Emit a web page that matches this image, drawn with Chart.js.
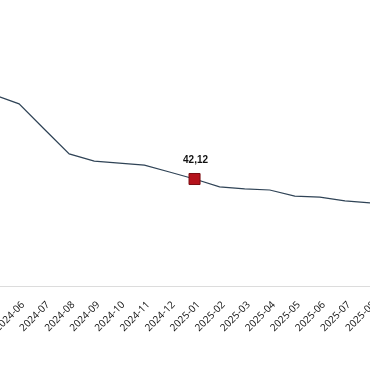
<!DOCTYPE html>
<html>
<head>
<meta charset="utf-8">
<script src="https://cdn.jsdelivr.net/npm/chart.js@4/dist/chart.umd.min.js"></script>
<style>
  html, body { margin: 0; padding: 0; background: #fff; }
  #wrap { position: relative; width: 370px; height: 380px; overflow: hidden; background: #fff; }
  #c { position: absolute; left: -6px; top: 0; }
</style>
</head>
<body>
<div id="wrap"><canvas id="c" width="376" height="380"></canvas></div>
<script>
const categories = ['2024-05','2024-06','2024-07','2024-08','2024-09','2024-10','2024-11','2024-12',
                    '2025-01','2025-02','2025-03','2025-04','2025-05','2025-06','2025-07','2025-08'];
const values = [75.3, 71.7, 61.8, 52.0, 49.2, 48.4, 47.6, 44.9,
                42.12, 39.0, 38.2, 37.8, 35.4, 35.0, 33.5, 32.7];
const highlightLabel = '2025-01';
const highlightIndex = categories.indexOf(highlightLabel);

const pointRadii = categories.map((c, i) => i === highlightIndex ? 7.8 : 0);

const valueLabelPlugin = {
  id: 'valueLabel',
  afterDatasetsDraw(chart) {
    const meta = chart.getDatasetMeta(0);
    const el = meta.data[highlightIndex];
    if (!el) return;
    const ctx = chart.ctx;
    ctx.save();
    ctx.font = 'bold 10px "Liberation Sans", Arial, sans-serif';
    ctx.fillStyle = '#111';
    ctx.textAlign = 'center';
    ctx.textBaseline = 'middle';
    ctx.fillText(values[highlightIndex].toFixed(2).replace('.', ','), el.x + 1, el.y - 19);
    ctx.restore();
  }
};

new Chart(document.getElementById('c'), {
  type: 'line',
  data: {
    labels: categories,
    datasets: [{
      data: values,
      borderColor: '#2f4356',
      borderWidth: 1.2,
      tension: 0,
      fill: false,
      pointRadius: pointRadii,
      pointHoverRadius: pointRadii,
      pointStyle: 'rect',
      pointBackgroundColor: '#b5121b',
      pointBorderColor: '#7a0d12',
      pointBorderWidth: 1
    }]
  },
  options: {
    responsive: false,
    animation: false,
    events: [],
    layout: { padding: { top: 32, left: 0, right: 0, bottom: 0 } },
    plugins: { legend: { display: false }, tooltip: { enabled: false } },
    scales: {
      x: {
        type: 'category',
        offset: false,
        grid: { display: false, drawTicks: true, tickLength: 8 },
        border: { display: true, color: '#dcdcdc', width: 1 },
        ticks: {
          minRotation: 45, maxRotation: 45, autoSkip: false,
          color: '#111', padding: 5, labelOffset: 4,
          font: { size: 10, family: '"Open Sans", "Liberation Sans", Arial, sans-serif' }
        },
        afterFit(scale) { scale.paddingLeft = 0; scale.paddingRight = 0; scale.height = 94; }
      },
      y: {
        display: false,
        min: 0, max: 100
      }
    }
  },
  plugins: [valueLabelPlugin]
});
</script>
</body>
</html>
